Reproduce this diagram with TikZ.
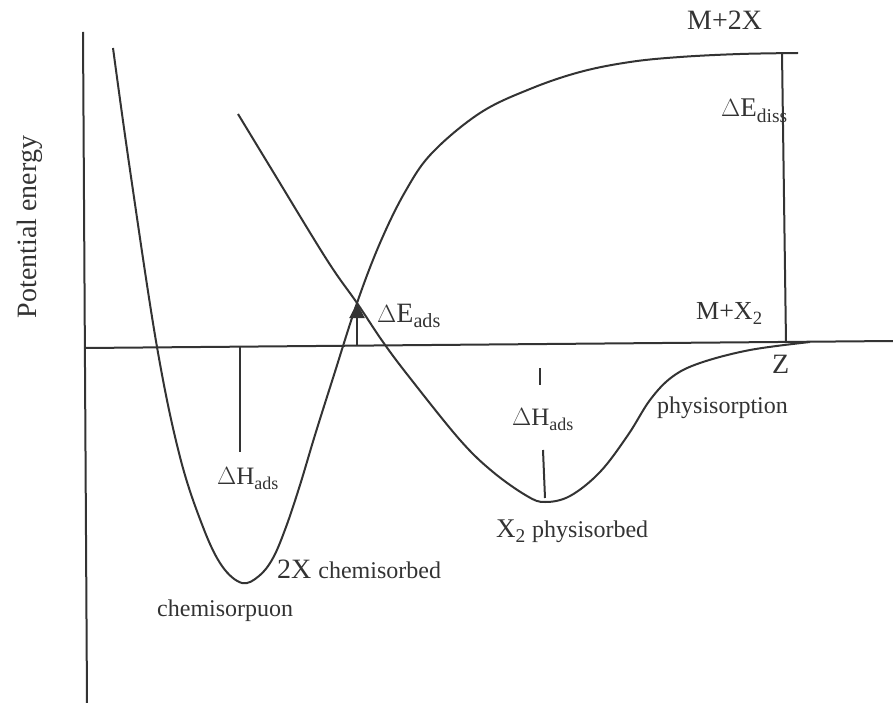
\documentclass[tikz,border=0pt]{standalone}
\usepackage{fontspec}
\usepackage{graphicx}
\setmainfont{Liberation Serif}
\usetikzlibrary{arrows.meta}
\definecolor{ink}{HTML}{333333}
\newcommand{\lo}[1]{\raisebox{-0.2em}{\scalebox{0.72}{#1}}}
\newcommand{\fs}[1]{\fontsize{#1}{#1}\selectfont}
\tikzset{
  curve/.style={draw=ink, line width=2pt, line join=round},
  lbl/.style={inner sep=0pt, anchor=base west, text=ink}
}
\begin{document}
\begin{tikzpicture}[x=1pt,y=-1pt]
\useasboundingbox (0,0) rectangle (893,703);
% axes
\coordinate (ytop) at (83,32);
\coordinate (ybot) at (87,703);
\coordinate (xl) at (85,348);
\coordinate (xr) at (893,341);
\draw[curve] (ytop) -- (ybot);
\draw[curve] (xl) -- (xr);
% chemisorption curve
\draw[curve] plot[smooth, tension=0.6] coordinates {
 (113,48) (130,170) (157,347) (180,457) (203,527) (222,566) (242,583)
 (259,576) (273,558) (286,527) (300,485) (315,435) (333,378) (357,303) (380,243)
 (405,192) (432,153) (480,113) (530,89) (580,72) (630,62) (680,57) (740,54) (798,53)};
% physisorption curve
\draw[curve] plot[smooth, tension=0.6] coordinates {
 (238,114) (272,170) (327,260) (357,303) (383,342) (410,378)
 (460,440) (493,472) (527,496) (545,502) (570,496) (600,472) (628,435)
 (650,400) (672,377) (700,363) (750,350) (810,342)};
% dissociation line
\coordinate (dtop) at (782,53);
\coordinate (dbot) at (786,343);
\draw[curve] (dtop) -- (dbot);
% activation arrow
\coordinate (abot) at (357,346);
\coordinate (atop) at (357,303);
\draw[curve, -{Triangle[length=15pt,width=15pt]}] (abot) -- (atop);
% delta H markers
\coordinate (h1a) at (240,347);
\coordinate (h1b) at (240,452);
\draw[curve] (h1a) -- (h1b);
\coordinate (h2a) at (540,368);
\coordinate (h2b) at (540,385);
\draw[curve] (h2a) -- (h2b);
\coordinate (h3a) at (543,450);
\coordinate (h3b) at (545,498);
\draw[curve] (h3a) -- (h3b);
% labels
\node[inner sep=0pt, anchor=base, rotate=90, text=ink] (pe) at (36,227) {\fs{28}Potential energy};
\node[lbl] (m2x) at (687,30) {\fs{28}M+2X};
\node[lbl] (ediss) at (721,117) {\fs{27}$\Delta$E\lo{diss}};
\node[lbl] (mx2) at (696,319) {\fs{26}M+X\lo{2}};
\node[lbl] (z) at (772,373) {\fs{28}Z};
\node[lbl] (eads) at (377,322) {\fs{28}$\Delta$E\lo{ads}};
\node[lbl] (hl) at (217,484) {\fs{25}$\Delta$H\lo{ads}};
\node[lbl] (hr) at (512,425) {\fs{25}$\Delta$H\lo{ads}};
\node[lbl] (phys) at (657,413) {\fs{24}physisorption};
\node[lbl] (x2p) at (496,537) {\fs{27}X\lo{2} \fs{24}physisorbed};
\node[lbl] (x2c) at (277,578) {\fs{28}2X \fs{24}chemisorbed};
\node[lbl] (chem) at (157,616) {\fs{24}chemisorpuon};
\end{tikzpicture}
\end{document}
